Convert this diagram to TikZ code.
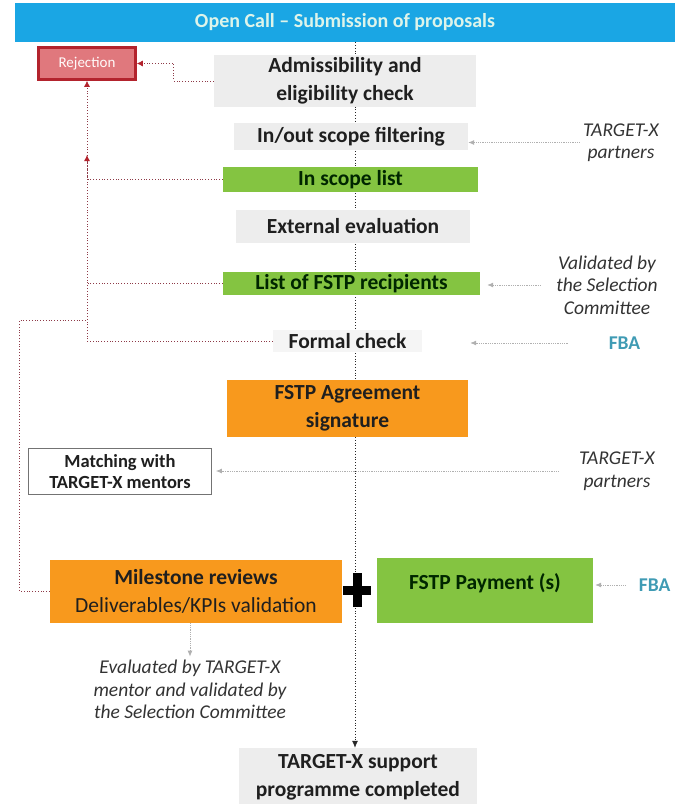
\documentclass[tikz,border=0pt]{standalone}
\usepackage{fontspec}
\setmainfont{Carlito}
\usetikzlibrary{arrows.meta,backgrounds}
\definecolor{callblue}{HTML}{1AA6E4}
\definecolor{titletext}{HTML}{DDF4EA}
\definecolor{rejfill}{HTML}{E0787D}
\definecolor{rejborder}{HTML}{B3232D}
\definecolor{rejline}{HTML}{8E3A48}
\definecolor{boxgrey}{HTML}{EDEDED}
\definecolor{boxlight}{HTML}{F5F5F5}
\definecolor{listgreen}{HTML}{84C441}
\definecolor{signorange}{HTML}{F8991D}
\definecolor{feedgrey}{HTML}{B0B0B0}
\definecolor{fbateal}{HTML}{3F9BB4}
\newcommand{\headfont}{\fontsize{20}{24}\selectfont\bfseries}
\newcommand{\boxfont}{\fontsize{21.5}{28}\selectfont\bfseries}
\newcommand{\matchfont}{\fontsize{18.5}{21.5}\selectfont\bfseries}
\newcommand{\sidefont}{\fontsize{19.5}{22.5}\selectfont\itshape}
\newcommand{\fbafont}{\fontsize{19.5}{22.5}\selectfont\bfseries}
\newcommand{\rejfont}{\fontsize{15}{18}\selectfont}

\begin{document}
\begin{tikzpicture}[x=1pt, y=-1pt,
    box/.style={inner sep=0pt, align=center, font=\boxfont, text=black!88},
    greybox/.style={box, fill=boxgrey},
    greenbox/.style={box, fill=listgreen, text=black!85!green},
    orangebox/.style={box, fill=signorange},
    side/.style={align=center, font=\sidefont, text=black!80},
    fba/.style={font=\fbafont, text=fbateal},
    feed/.style={draw=feedgrey, densely dotted, thick, -{Latex[length=6pt,width=5pt]}},
    reject/.style={draw=rejline, dotted, thick},
    redtip/.style={-{Latex[length=6pt,width=6pt,rejborder]}},
    flowline/.style={draw=black!85, dotted, thick, -{Latex[length=7pt,width=6pt]}}]

\useasboundingbox (0,0) rectangle (675,804);

\node (head) at (345,22.5) [fill=callblue, minimum width=660, minimum height=39, inner sep=0pt, font=\headfont, text=titletext] {Open Call – Submission of proposals};
\node (rej) at (87,63.5) [fill=rejfill, draw=rejborder, line width=2.5pt, minimum width=97, minimum height=32, inner sep=0pt, font=\rejfont, text=white!92!pink] {Rejection};

\node (adm) at (345,81) [greybox, minimum width=262, minimum height=52] {Admissibility and\\eligibility check};
\node (scope) at (351,136.5) [greybox, minimum width=234, minimum height=27] {In/out scope filtering};
\node (inlist) at (350.5,179.5) [greenbox, minimum width=255, minimum height=25] {In scope list};
\node (exteval) at (353,226.5) [greybox, minimum width=234, minimum height=33] {External evaluation};
\node (recip) at (351.5,283.5) [greenbox, minimum width=257, minimum height=23] {List of FSTP recipients};
\node (formal) at (347.5,341) [greybox, fill=boxlight, minimum width=149, minimum height=22] {Formal check};
\node (agree) at (347.5,408.5) [orangebox, minimum width=241, minimum height=57] {FSTP Agreement\\signature};
\node (match) at (120,471.5) [box, draw=black!55, line width=0.8pt, fill=white, font=\matchfont, minimum width=183, minimum height=46] {Matching with\\TARGET-X mentors};
\node (mile) at (196,591.5) [orangebox, minimum width=292, minimum height=63] {Milestone reviews\\{\mdseries Deliverables/KPIs validation}};
\node (pay) at (485,590.5) [greenbox, minimum width=216, minimum height=65, text height=16pt, text depth=18pt] {FSTP Payment (s)};
\node (done) at (358,777) [greybox, minimum width=238, minimum height=58] {TARGET-X support\\programme completed};

\node (partA) at (621,142.5) [side] {TARGET-X\\partners};
\node (valid) at (607,285) [side] {Validated by\\the Selection\\Committee};
\node (fbaA) at (624.5,343) [fba] {FBA};
\node (partB) at (617,471) [side] {TARGET-X\\partners};
\node (fbaB) at (674,585) [fba, anchor=east] {FBA};
\node (note) at (190,689.5) [side] {Evaluated by TARGET-X\\mentor and validated by\\the Selection Committee};

\coordinate (mid) at (355,0);
\coordinate (backup) at (87,155);
\coordinate (loop) at (87,320);

\begin{scope}[on background layer]
\draw[flowline] (head.south -| mid) -- (done.north -| mid);
\end{scope}

\node (plus) at (357,590) {};
\fill[black] ([xshift=-4.5pt,yshift=-17pt]plus.center) rectangle ([xshift=4.5pt,yshift=17pt]plus.center);
\fill[black] ([xshift=-14pt,yshift=-4.5pt]plus.center) rectangle ([xshift=14pt,yshift=4.5pt]plus.center);

\draw[reject, redtip] (adm.west) -- ++(-40,0) |- (rej.east);
\draw[reject, redtip] (inlist.west) -| (rej.south);
\draw[reject] (recip.west) -- (recip.west -| rej.south);
\draw[reject, redtip] (formal.west) -| (backup);
\draw[reject] (mile.west) -- ++(-30,0) |- (loop);

\draw[feed] (partA.west) -- (partA.west -| scope.east);
\draw[feed, shorten <=12pt, shorten >=7pt] (valid.west) -- (valid.west -| recip.east);
\draw[feed, shorten <=37pt, shorten >=48pt] (fbaA.west) -- (fbaA.west -| formal.east);
\draw[feed, shorten <=17pt, shorten >=4pt] (partB.west) -- (partB.west -| match.east);
\draw[feed, shorten <=10pt, shorten >=2pt] (fbaB.west) -- (fbaB.west -| pay.east);
\draw[feed] (mile.south -| note.north) -- (note.north);

\end{tikzpicture}
\end{document}
